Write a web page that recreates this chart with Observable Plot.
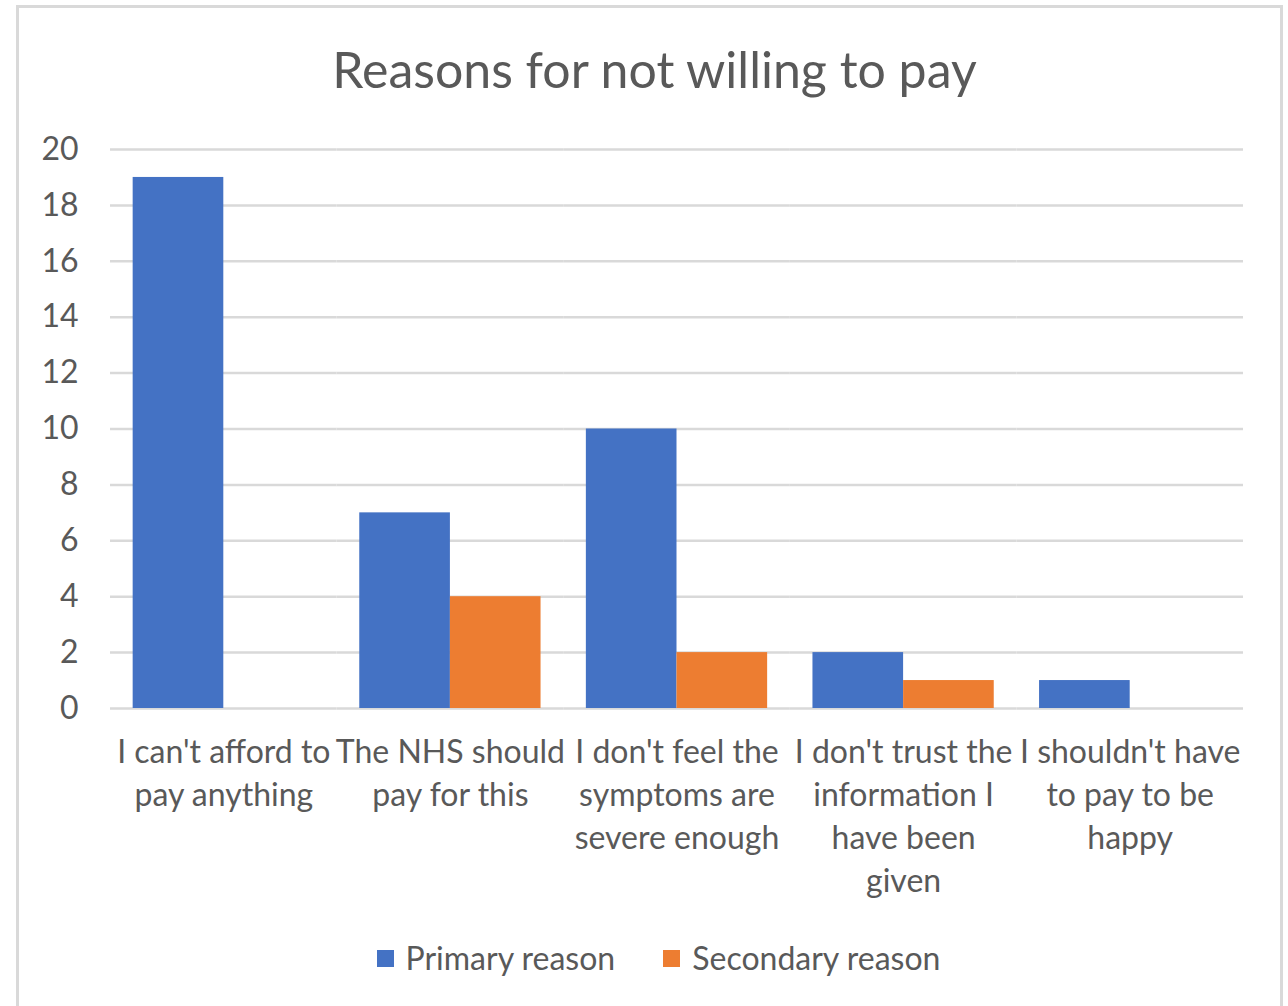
<!DOCTYPE html>
<html>
<head>
<meta charset="utf-8">
<script src="https://cdn.jsdelivr.net/npm/d3@7"></script>
<script src="https://cdn.jsdelivr.net/npm/@observablehq/plot@0.6"></script>
<style>
  html, body { margin: 0; padding: 0; background: #fff; }
  #wrap { position: relative; width: 1288px; height: 1006px; overflow: hidden; font-family: Lato, "Open Sans", sans-serif; color: #595959; }
  #frame { position: absolute; left: 16px; top: 5px; width: 1267px; height: 1020px; border: 3px solid #d9d9d9; box-sizing: border-box; }
  #title { position: absolute; left: 21px; width: 1267px; top: 44px; text-align: center; font-size: 50px; line-height: 50px; white-space: nowrap; }
  #chart { position: absolute; left: 0; top: 120px; }
  #legend { position: absolute; left: 25px; width: 1267px; top: 942px; display: flex; justify-content: center; align-items: center; font-size: 32px; line-height: 32px; }
  .item { display: flex; align-items: center; }
  .sw { width: 17px; height: 17px; margin-right: 12px; }
  .item + .item { margin-left: 48px; }
</style>
</head>
<body>
<div id="wrap">
  <div id="frame"></div>
  <div id="title">Reasons for not willing to pay</div>
  <div id="chart"></div>
  <div id="legend"></div>
</div>
<script>
const categories = [
  "I can't afford to pay anything",
  "The NHS should pay for this",
  "I don't feel the symptoms are severe enough",
  "I don't trust the information I have been given",
  "I shouldn't have to pay to be happy"
];
const categoryLabels = [
  "I can't afford to\npay anything",
  "The NHS should\npay for this",
  "I don't feel the\nsymptoms are\nsevere enough",
  "I don't trust the\ninformation I\nhave been\ngiven",
  "I shouldn't have\nto pay to be\nhappy"
];
const series = ["Primary reason", "Secondary reason"];
const primary = [19, 7, 10, 2, 1];
const secondary = [0, 4, 2, 1, 0];
const yTicks = [0, 2, 4, 6, 8, 10, 12, 14, 16, 18, 20];
const colors = ["#4472C4", "#ED7D31"];

const data = [];
categories.forEach((c, i) => {
  data.push({category: c, series: series[0], value: primary[i]});
  data.push({category: c, series: series[1], value: secondary[i]});
});

const chart = Plot.plot({
  width: 1288,
  height: 800,
  marginTop: 29,
  marginBottom: 212,
  marginLeft: 110,
  marginRight: 45,
  style: {fontFamily: "Lato, 'Open Sans', sans-serif", fontSize: "32px", color: "#595959", background: "transparent"},
  fx: {domain: categories, padding: 0, round: false, label: null},
  x: {domain: series, paddingInner: 0, paddingOuter: 0.25, round: false, axis: null},
  y: {domain: [0, 20], axis: null},
  color: {domain: series, range: colors},
  marks: [
    Plot.gridY(yTicks, {stroke: "#d9d9d9", strokeOpacity: 1, strokeWidth: 2.5}),
    Plot.barY(data, {fx: "category", x: "series", y: "value", fill: "series"}),
    Plot.axisY(yTicks, {tickSize: 0, tickPadding: 32, label: null, fontSize: 32}),
    Plot.axisFx({anchor: "bottom", tickSize: 0, tickPadding: 24, label: null, fontSize: 32, lineHeight: 1.344,
      tickFormat: d => categoryLabels[categories.indexOf(d)]})
  ]
});
document.getElementById("chart").appendChild(chart);

const legend = document.getElementById("legend");
series.forEach((s, i) => {
  const item = document.createElement("div");
  item.className = "item";
  const sw = document.createElement("div");
  sw.className = "sw";
  sw.style.background = colors[i];
  const label = document.createElement("span");
  label.textContent = s;
  item.appendChild(sw);
  item.appendChild(label);
  legend.appendChild(item);
});
</script>
</body>
</html>
